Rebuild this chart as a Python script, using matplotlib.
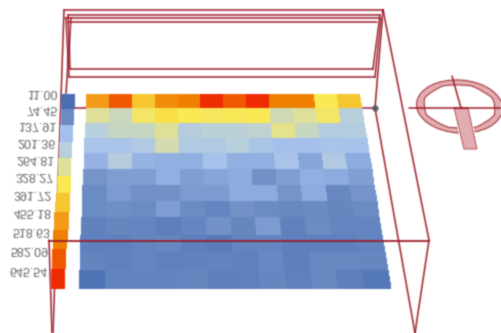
import numpy as np
import matplotlib
matplotlib.use("Agg")
import matplotlib.pyplot as plt
from matplotlib.colors import LinearSegmentedColormap, Normalize
from matplotlib.patches import PathPatch, Polygon
from matplotlib.path import Path

# ---------- data ----------
scale_labels = ["11.00", "74.45", "137.91", "201.36", "264.81", "328.27",
                "391.72", "455.18", "518.63", "582.09", "645.54"]
scale_values = [11.00, 74.45, 137.91, 201.36, 264.81, 328.27,
                391.72, 455.18, 518.63, 582.09, 645.54]
scale_colors = ["#4a6db0", "#6a8cc4", "#a3bfee", "#b8cfdc", "#dfe09a", "#fbe950",
                "#f7c72f", "#f39b16", "#ef8000", "#ef5700", "#ee2a00"]
row0 = [455, 582, 392, 487, 519, 645, 582, 645, 519, 519, 328, 392]
row1 = [265, 233, 309, 347, 328, 316, 322, 328, 239, 265, 309, 201]
row2 = [201, 227, 227, 265, 195, 208, 208, 214, 277, 227, 189, 189]
row3 = [157, 157, 182, 246, 182, 182, 201, 163, 144, 144, 157, 151]
row4 = [125, 195, 125, 119, 119, 151, 119, 119, 157, 106, 182, 113]
row5 = [87, 100, 100, 119, 100, 106, 113, 81, 100, 119, 113, 100]
row6 = [74, 93, 81, 81, 93, 93, 113, 113, 87, 113, 68, 87]
row7 = [74, 78, 74, 97, 74, 62, 81, 74, 68, 71, 65, 74]
row8 = [55, 65, 62, 46, 62, 81, 65, 93, 55, 74, 62, 62]
row9 = [52, 52, 59, 65, 49, 40, 59, 62, 52, 52, 52, 59]
row10 = [59, 55, 62, 52, 55, 59, 52, 68, 46, 68, 68, 65]
row11 = [24, 59, 59, 59, 65, 49, 52, 65, 52, 68, 46, 33]
heat = np.array([row0, row1, row2, row3, row4, row5, row6, row7, row8, row9, row10, row11], float)

# ---------- layout (pixels of the picture) ----------
W, H = 502, 333
row_edges = np.array([94, 108.3, 123.3, 137.7, 153, 169, 185, 201, 217.3, 235, 252.3, 270, 288.5])
bar_edges = np.array([94, 109.3, 125, 141.7, 158.3, 176, 193.3, 211.7, 230, 249.3, 269, 289])
RED = "#9c1c28"
PINK = "#e2aeb0"

cmap = LinearSegmentedColormap.from_list("scale", scale_colors)
norm = Normalize(scale_values[0], scale_values[-1])


def soft(img, dpi, s=0.35):
    """Light blur, matching the soft rendering of the reference."""
    p = np.pad(img, ((1, 1), (1, 1), (0, 0)))
    a = p[..., 3:4]
    pm = np.concatenate([p[..., :3] * a, a], axis=2)
    k = np.array([s, 1.0, s])
    k = k / k.sum()
    pm = (np.roll(pm, 1, 0) * k[0] + pm * k[1] + np.roll(pm, -1, 0) * k[2])
    pm = (np.roll(pm, 1, 1) * k[0] + pm * k[1] + np.roll(pm, -1, 1) * k[2])
    al = np.clip(pm[..., 3:4], 1e-6, 1)
    out = np.concatenate([np.clip(pm[..., :3] / al, 0, 1), pm[..., 3:4]], axis=2)
    return out, -1, -1


def flip_soft(img, dpi):
    return soft(img[::-1], dpi, 0.35)


def trapezoid(yedges, n, top_l, top_r, bot_l, bot_r):
    t = (yedges - yedges[0]) / (yedges[-1] - yedges[0])
    left = top_l + (bot_l - top_l) * t
    right = top_r + (bot_r - top_r) * t
    frac = np.arange(n + 1) / n
    X = left[:, None] + (right - left)[:, None] * frac[None, :]
    Y = np.repeat(yedges[:, None], n + 1, axis=1)
    return X, Y


plt.rcParams["font.family"] = ["Liberation Sans", "DejaVu Sans"]
fig = plt.figure(figsize=(W / 100, H / 100), dpi=100, facecolor="white")
ax = fig.add_axes([0, 0, 1, 1])
ax.set_xlim(0, W)
ax.set_ylim(H, 0)
ax.axis("off")


def line(xs, ys, lw=1.1, z=2):
    ax.plot(xs, ys, color=RED, lw=lw, zorder=z,
            solid_capstyle="round", solid_joinstyle="miter", agg_filter=soft)


# frame behind the heat map
line([64, 383], [10, 10])
line([68, 380], [15, 15])
line([65, 380], [18.3, 18.3])
line([68, 377], [22, 22])
line([70, 373], [69, 69])
line([69, 375], [77, 77])
line([68, 70], [15, 69])
line([66, 69], [18.3, 77])
line([380, 373], [15, 69])
line([381, 375], [18.3, 77])
line([64, 53], [10, 333])
line([71, 66], [18, 94])
line([383, 429, 415], [10, 240, 333])
line([383, 375], [10, 108])
line([375, 415], [108, 333])
line([49, 52], [240, 333])
line([72, 376], [108, 108], z=1)

# heat map
X, Y = trapezoid(row_edges, 12, 86.7, 359.5, 78.8, 390.8)
ax.pcolormesh(X, Y, heat, cmap=cmap, norm=norm, shading="flat", zorder=3,
              antialiased=False, linewidth=0, agg_filter=soft)

# colour scale
BX, BY = trapezoid(bar_edges, 1, 62.3, 75.0, 51.0, 64.3)
ax.pcolormesh(BX, BY, np.array(scale_values)[:, None], cmap=cmap, norm=norm,
              shading="flat", zorder=3, antialiased=False, linewidth=0, agg_filter=soft)

# horizontal line in front of the map
line([49, 429], [240.5, 240.5], lw=1.3, z=5)

# dark joint
ax.plot([375], [108], marker="o", ms=4.6, mfc="#4a5a5c", mec="none", alpha=0.85,
        zorder=6, agg_filter=soft)

# scale labels, mirrored top to bottom as in the reference
centres = (bar_edges[:-1] + bar_edges[1:]) / 2
for lab, yc in zip(scale_labels, centres):
    y = yc - 4.2 - (yc - 94) * 0.005
    xr = 58.0 - (y - 97) * 10.0 / 176.0
    ax.text(xr, y, lab, ha="right", va="center", fontsize=9.0, color="#666666",
            zorder=7, agg_filter=flip_soft)

# gauge: ring
cx, cy = 459.5, 106.5
th = np.radians(4)


def ellipse(rx, ry, reverse=False):
    base = Path.unit_circle()
    v = base.vertices * [rx, ry]
    rot = np.array([[np.cos(th), -np.sin(th)], [np.sin(th), np.cos(th)]])
    v = v @ rot.T + [cx, cy]
    if reverse:
        return Path(v[::-1], base.codes)
    return Path(v, base.codes)


ring = Path.make_compound_path(ellipse(43, 26.5), ellipse(35.5, 21.5, True))
ax.add_patch(PathPatch(ring, facecolor=PINK, edgecolor=RED, lw=0.7, zorder=3, agg_filter=soft))
# needle
needle = [[454, 108], [468, 108], [477, 149], [464, 149]]
ax.add_patch(Polygon(needle, closed=True, facecolor="white", edgecolor="white", lw=2, zorder=4))
ax.add_patch(Polygon(needle, closed=True, facecolor=PINK, edgecolor=RED, lw=0.5, zorder=4,
                     agg_filter=soft))
line([452, 461], [76, 108], z=5)
line([409, 502], [108, 108], z=5)

fig.savefig("out.png", dpi=100, facecolor="white")
